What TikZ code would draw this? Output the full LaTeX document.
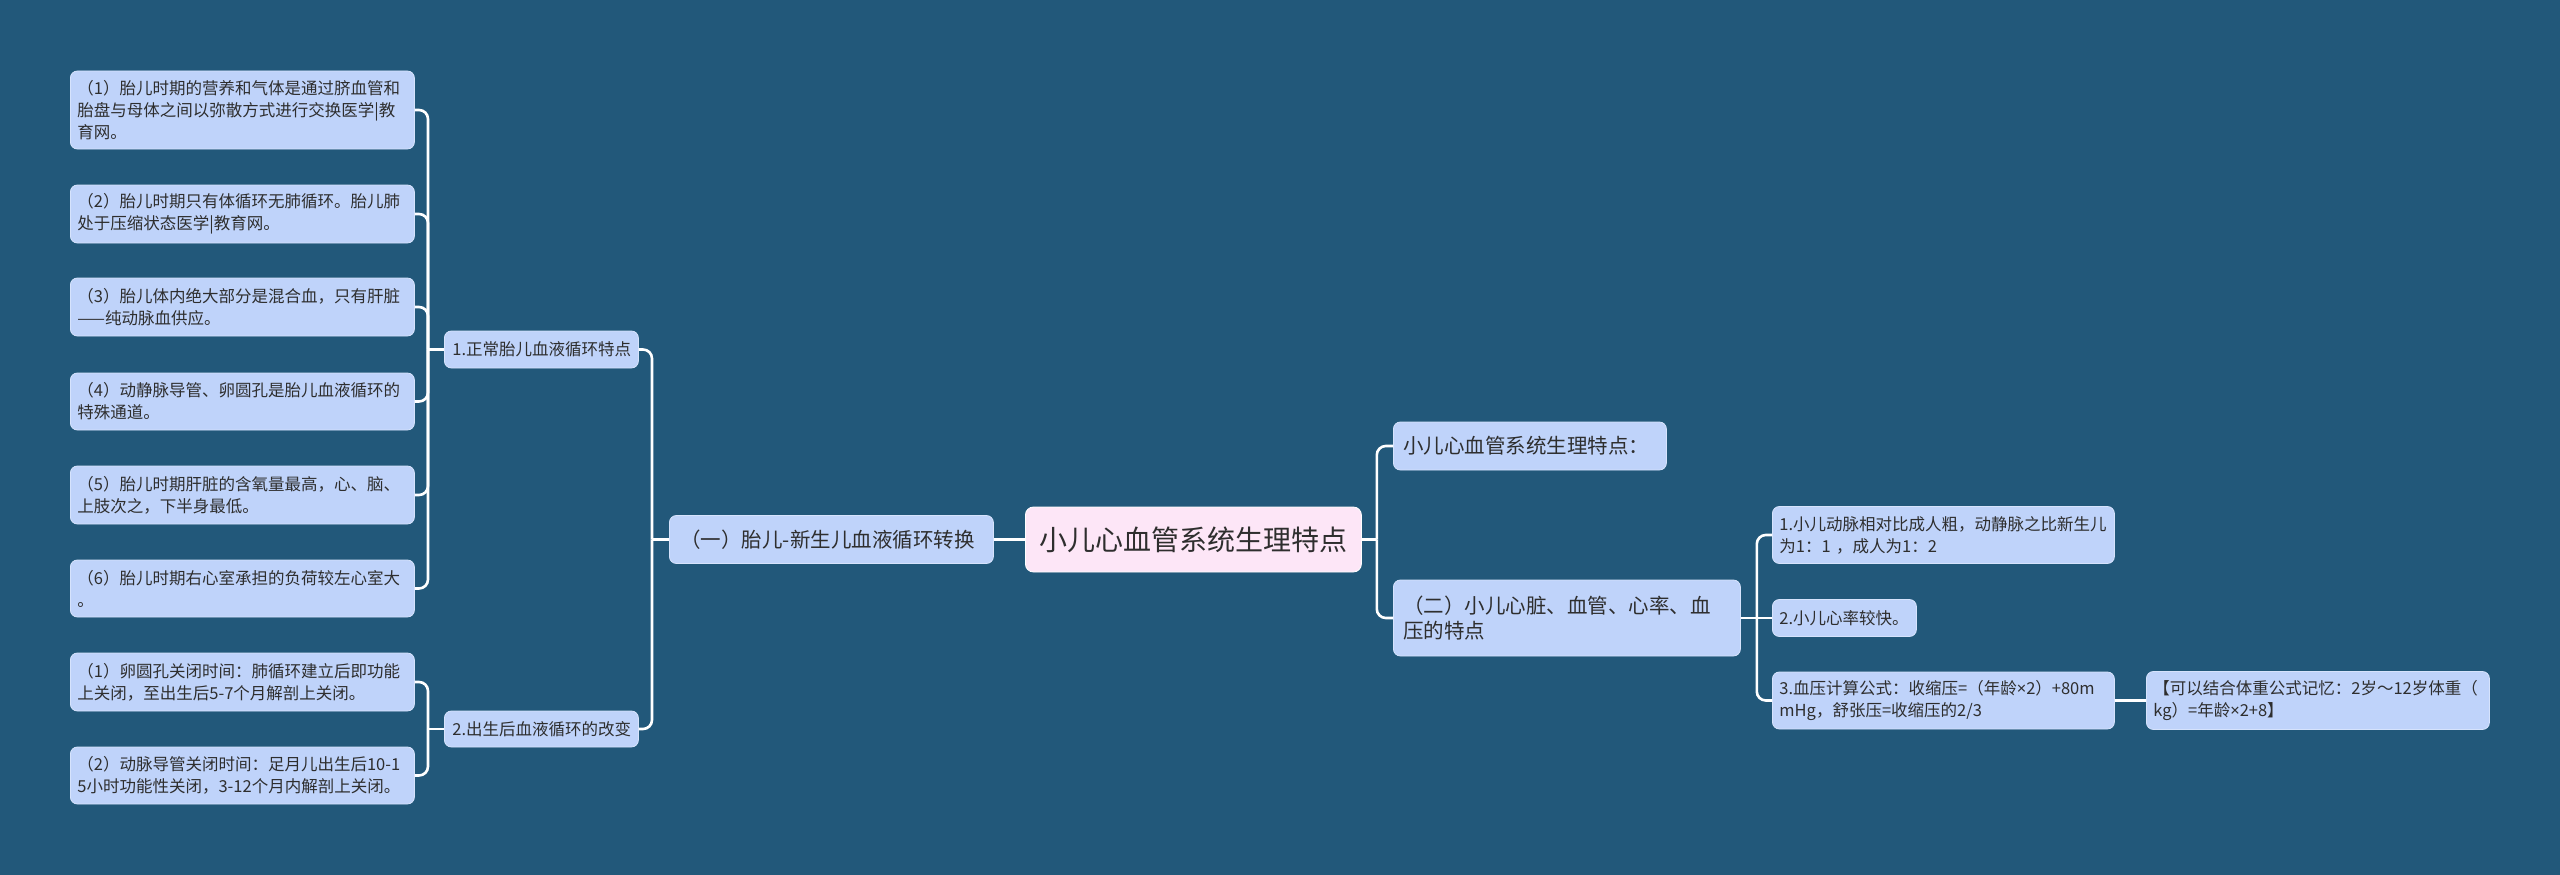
\documentclass[tikz,border=0pt]{standalone}
\usepackage{fontspec}
\setmainfont{Noto Sans CJK SC}
\newfontfamily\latinfont{Noto Sans}
\newcommand{\tms}{{\latinfont ×}}
\definecolor{bgc}{HTML}{22587A}
\definecolor{leaffill}{HTML}{BFD3FA}
\definecolor{leafdraw}{HTML}{D6E3FC}
\definecolor{rootfill}{HTML}{FDE6F7}
\definecolor{txt}{HTML}{2E2E2E}
\tikzset{
  box/.style={anchor=west, fill=leaffill, draw=leafdraw, line width=0.8pt, rounded corners=7pt,
    text=txt, align=left, inner ysep=0pt},
  leaf/.style={box, font=\fontsize{16.5}{22}\selectfont},
  mid/.style={box, font=\fontsize{20.5}{25}\selectfont},
  rootbox/.style={anchor=west, fill=rootfill, draw=white, line width=0.8pt, rounded corners=8pt,
    text=txt, align=center, font=\fontsize{28}{32}\selectfont, inner sep=0pt},
  conn/.style={draw=white, line width=2.6pt},
  rconn/.style={conn, rounded corners=9pt}
}
\begin{document}
\begin{tikzpicture}[x=1pt,y=-1pt]
\useasboundingbox[fill=bgc] (0,0) rectangle (2560,875);

% leaves, left
\node[leaf, inner xsep=7pt, text width=330pt, minimum height=78pt] (a1) at (70,110)
  {（1）胎儿时期的营养和气体是通过脐血管和\\胎盘与母体之间以弥散方式进行交换医学|教\\育网。};
\node[leaf, inner xsep=7pt, text width=330pt, minimum height=58pt] (a2) at (70,214)
  {（2）胎儿时期只有体循环无肺循环。胎儿肺\\处于压缩状态医学|教育网。};
\node[leaf, inner xsep=7pt, text width=330pt, minimum height=58pt] (a3) at (70,307)
  {（3）胎儿体内绝大部分是混合血，只有肝脏\\——纯动脉血供应。};
\node[leaf, inner xsep=7pt, text width=330pt, minimum height=57pt] (a4) at (70,401.5)
  {（4）动静脉导管、卵圆孔是胎儿血液循环的\\特殊通道。};
\node[leaf, inner xsep=7pt, text width=330pt, minimum height=58pt] (a5) at (70,495)
  {（5）胎儿时期肝脏的含氧量最高，心、脑、\\上肢次之，下半身最低。};
\node[leaf, inner xsep=7pt, text width=330pt, minimum height=57pt] (a6) at (70,588.5)
  {（6）胎儿时期右心室承担的负荷较左心室大\\。};
\node[leaf, inner xsep=7pt, text width=330pt, minimum height=58pt] (b1) at (70,682)
  {（1）卵圆孔关闭时间：肺循环建立后即功能\\上关闭，至出生后5-7个月解剖上关闭。};
\node[leaf, inner xsep=7pt, text width=330pt, minimum height=57pt] (b2) at (70,775.5)
  {（2）动脉导管关闭时间：足月儿出生后10-1\\5小时功能性关闭，3-12个月内解剖上关闭。};

% level 2 left
\node[leaf, inner xsep=8pt, text width=178pt, minimum height=37pt] (l1) at (444,349.5)
  {1.正常胎儿血液循环特点};
\node[leaf, inner xsep=8pt, text width=178pt, minimum height=36pt] (l2) at (444,729)
  {2.出生后血液循环的改变};

% level 1 left
\node[mid, inner xsep=11pt, text width=302pt, minimum height=48pt] (m) at (669,539.5)
  {（一）胎儿-新生儿血液循环转换};

% root
\node[rootbox, minimum width=336pt, minimum height=65pt] (root) at (1025,539.5)
  {小儿心血管系统生理特点};

% level 1 right
\node[mid, inner xsep=10pt, text width=253pt, minimum height=48pt] (r1) at (1393,446)
  {小儿心血管系统生理特点：};
\node[mid, inner xsep=10pt, text width=327pt, minimum height=76pt] (r2) at (1393,618)
  {（二）小儿心脏、血管、心率、血\\压的特点};

% level 2 right
\node[leaf, inner xsep=7pt, text width=328pt, minimum height=57pt] (c1) at (1772,535)
  {1.小儿动脉相对比成人粗，动静脉之比新生儿\\为1：1 ，成人为1：2};
\node[leaf, inner xsep=7pt, text width=130pt, minimum height=37pt] (c2) at (1772,618)
  {2.小儿心率较快。};
\node[leaf, inner xsep=7pt, text width=328pt, minimum height=57pt] (c3) at (1772,700.5)
  {3.血压计算公式：收缩压=（年龄\tms2）+80m\\mHg，舒张压=收缩压的2/3};
\node[leaf, inner xsep=7pt, text width=329pt, minimum height=58pt] (c4) at (2146,700.5)
  {【可以结合体重公式记忆：2岁～12岁体重（\\kg）=年龄\tms2+8】};

% junctions
\coordinate (ja) at ([xshift=-16pt]l1.west);
\coordinate (jb) at ([xshift=-16pt]l2.west);
\coordinate (jm) at ([xshift=-17pt]m.west);
\coordinate (jr) at ([xshift=15pt]root.east);
\coordinate (jc) at ([xshift=16pt]r2.east);

% connectors
\draw[conn] (l1.west) -- (ja);
\foreach \n in {a1,a2,a3,a4,a5,a6} \draw[rconn] (ja) |- (\n.east);
\draw[conn] (l2.west) -- (jb);
\foreach \n in {b1,b2} \draw[rconn] (jb) |- (\n.east);
\draw[conn] (m.west) -- (jm);
\foreach \n in {l1,l2} \draw[rconn] (jm) |- (\n.east);
\draw[conn] (m.east) -- (root.west);
\draw[conn] (root.east) -- (jr);
\foreach \n in {r1,r2} \draw[rconn] (jr) |- (\n.west);
\draw[conn] (r2.east) -- (c2.west);
\foreach \n in {c1,c3} \draw[rconn] (jc) |- (\n.west);
\draw[conn] (c3.east) -- (c4.west);
\end{tikzpicture}
\end{document}
